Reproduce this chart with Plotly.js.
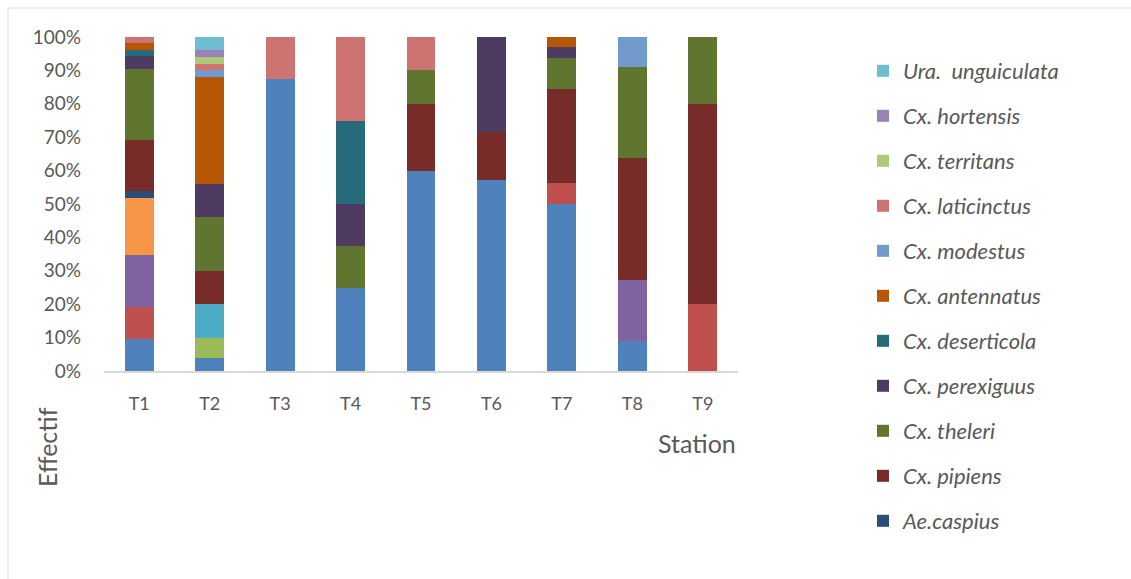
<!DOCTYPE html>
<html>
<head>
<meta charset="utf-8">
<script src="https://cdn.plot.ly/plotly-3.0.1.min.js"></script>
<style>
  html, body { margin: 0; padding: 0; background: #ffffff; }
  #chart { width: 1131px; height: 579px; }
</style>
</head>
<body>
<div id="chart"></div>
<script>
// Stations (x categories)
const stations = ["T1", "T2", "T3", "T4", "T5", "T6", "T7", "T8", "T9"];

// Species names (bottom of stack first). The first six are not shown in the legend of the original.
const speciesNames = [
  "Espèce 1", "Espèce 2", "Espèce 3", "Espèce 4", "Espèce 5", "Espèce 6",
  "Ae.caspius", "Cx. pipiens", "Cx. theleri", "Cx. perexiguus", "Cx. deserticola",
  "Cx. antennatus", "Cx. modestus", "Cx. laticinctus", "Cx. territans",
  "Cx. hortensis", "Ura.  unguiculata"
];

// Counts per station (T1..T9)
const sp1  = [5, 2, 7, 2, 6, 4, 16, 1, 0];
const sp2  = [5, 0, 0, 0, 0, 0, 2, 0, 1];
const sp3  = [0, 3, 0, 0, 0, 0, 0, 0, 0];
const sp4  = [8, 0, 0, 0, 0, 0, 0, 2, 0];
const sp5  = [0, 5, 0, 0, 0, 0, 0, 0, 0];
const sp6  = [9, 0, 0, 0, 0, 0, 0, 0, 0];
const aeCaspius     = [1, 0, 0, 0, 0, 0, 0, 0, 0];
const cxPipiens     = [8, 5, 0, 0, 2, 1, 9, 4, 3];
const cxTheleri     = [11, 8, 0, 1, 1, 0, 3, 3, 1];
const cxPerexiguus  = [2, 5, 0, 1, 0, 2, 1, 0, 0];
const cxDeserticola = [1, 0, 0, 2, 0, 0, 0, 0, 0];
const cxAntennatus  = [1, 16, 0, 0, 0, 0, 1, 0, 0];
const cxModestus    = [0, 1, 0, 0, 0, 0, 0, 1, 0];
const cxLaticinctus = [1, 1, 1, 2, 1, 0, 0, 0, 0];
const cxTerritans   = [0, 1, 0, 0, 0, 0, 0, 0, 0];
const cxHortensis   = [0, 1, 0, 0, 0, 0, 0, 0, 0];
const uraUnguiculata = [0, 2, 0, 0, 0, 0, 0, 0, 0];

const seriesValues = [sp1, sp2, sp3, sp4, sp5, sp6, aeCaspius, cxPipiens, cxTheleri,
  cxPerexiguus, cxDeserticola, cxAntennatus, cxModestus, cxLaticinctus,
  cxTerritans, cxHortensis, uraUnguiculata];

const colors = ["#4F81BD", "#C0504D", "#9BBB59", "#8064A2", "#4BACC6", "#F79646",
  "#2C4D75", "#772C2A", "#5F7530", "#4D3B62", "#276A7C", "#B65708",
  "#729ACA", "#CD7371", "#AFC97A", "#9983B5", "#6FBDD1"];

const yTicks = [0, 10, 20, 30, 40, 50, 60, 70, 80, 90, 100];
const yTickText = ["0%", "10%", "20%", "30%", "40%", "50%", "60%", "70%", "80%", "90%", "100%"];

const FONT = "Lato, 'Open Sans', sans-serif";
const GREY = "#595959";

const traces = seriesValues.map((vals, i) => ({
  type: "bar",
  name: speciesNames[i],
  x: stations,
  y: vals,
  legendgroup: "g" + i,
  legendrank: 1000 - i,
  showlegend: i >= 6,
  marker: { color: colors[i], line: { width: 0 } },
  hovertemplate: "%{x}: %{y}<extra>" + speciesNames[i] + "</extra>"
}));

// plot area: x 104..738, y 37..371
const L = 104, R = 738, T = 37, B = 371;
const px = v => (v - L) / (R - L);
const py = v => (B - v) / (B - T);

const layout = {
  width: 1131,
  height: 579,
  margin: { l: L, r: 1131 - R, t: T, b: 579 - B, pad: 0 },
  paper_bgcolor: "#ffffff",
  plot_bgcolor: "#ffffff",
  barmode: "stack",
  barnorm: "percent",
  bargap: 0.59,
  font: { family: FONT, color: GREY, size: 18 },
  xaxis: {
    type: "category",
    showline: true,
    linecolor: "#D9D9D9",
    linewidth: 1.5,
    showgrid: false,
    ticks: "",
    ticklabelstandoff: 16,
    tickfont: { family: FONT, size: 18, color: GREY },
    zeroline: false
  },
  yaxis: {
    range: [0, 100],
    tickmode: "array",
    tickvals: yTicks,
    ticktext: yTickText,
    showgrid: false,
    showline: false,
    zeroline: false,
    ticks: "",
    ticklabelstandoff: 22,
    tickfont: { family: FONT, size: 19, color: GREY }
  },
  legend: {
    traceorder: "grouped",
    tracegroupgap: 13.4,
    maxheight: 570,
    x: px(863),
    xanchor: "left",
    y: py(50),
    yanchor: "top",
    font: { family: FONT, size: 22, color: GREY, style: "italic" },
    bgcolor: "rgba(0,0,0,0)"
  },
  annotations: [
    {
      text: "Station", xref: "paper", yref: "paper",
      x: px(697), y: py(443), xanchor: "center", yanchor: "middle",
      showarrow: false, font: { family: FONT, size: 25, color: GREY }
    },
    {
      text: "Effectif", xref: "paper", yref: "paper",
      x: px(47), y: py(447), xanchor: "center", yanchor: "middle",
      textangle: -90,
      showarrow: false, font: { family: FONT, size: 25, color: GREY }
    }
  ],
  shapes: [
    {
      type: "rect", xref: "paper", yref: "paper",
      x0: px(8), x1: px(1140), y0: py(8), y1: py(600),
      line: { color: "#D9D9D9", width: 1 }, fillcolor: "rgba(0,0,0,0)", layer: "below"
    }
  ],
  showlegend: true
};

Plotly.newPlot("chart", traces, layout, { displayModeBar: false, staticPlot: true });
</script>
</body>
</html>
